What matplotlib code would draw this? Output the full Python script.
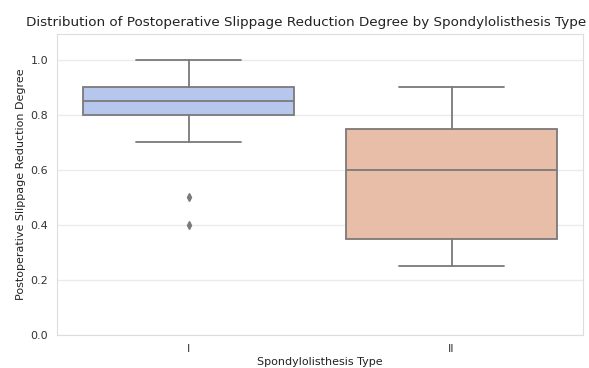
import matplotlib
matplotlib.use("Agg")
import matplotlib.pyplot as plt
import seaborn as sns

sns.set_style("whitegrid")

types = ["I", "II"]
q1 = [0.80, 0.35]
medians = [0.85, 0.60]
q3 = [0.90, 0.75]
whisker_low = [0.70, 0.25]
whisker_high = [1.00, 0.90]
outliers = [[0.5, 0.4], []]

# coolwarm pair, softened
colors = ["#b6c6ec", "#e9bea9"]

stats = []
for i, t in enumerate(types):
    stats.append({
        "label": t, "q1": q1[i], "med": medians[i], "q3": q3[i],
        "whislo": whisker_low[i], "whishi": whisker_high[i], "fliers": outliers[i],
    })

fig, ax = plt.subplots(figsize=(5.89, 3.68), dpi=100)
gray = "#7a7a7a"
bp = ax.bxp(stats, positions=range(len(types)), widths=0.8, patch_artist=True,
            boxprops=dict(edgecolor=gray, linewidth=1.3),
            medianprops=dict(color=gray, linewidth=1.3),
            whiskerprops=dict(color=gray, linewidth=1.3),
            capprops=dict(color=gray, linewidth=1.3),
            flierprops=dict(marker="d", markerfacecolor=gray, markeredgecolor=gray, markersize=4),
            capwidths=0.4)
for patch, c in zip(bp["boxes"], colors):
    patch.set_facecolor(c)

ax.set_xlim(-0.5, 1.5)
ax.set_ylim(0, 1.095)
ax.set_xticks(range(len(types)))
ax.set_xticklabels(types)
ax.tick_params(labelsize=8, colors="#333333", pad=3)
ax.grid(axis="x", visible=False)
ax.grid(axis="y", color="#ebebeb", linewidth=1)
for s in ax.spines.values():
    s.set_color("#dddddd")
ax.set_title("Distribution of Postoperative Slippage Reduction Degree by Spondylolisthesis Type",
             fontsize=9.7, color="#222222", pad=6, x=0.473)
ax.set_xlabel("Spondylolisthesis Type", fontsize=8, color="#222222", labelpad=2)
ax.set_ylabel("Postoperative Slippage Reduction Degree", fontsize=8, color="#222222", labelpad=3)

plt.subplots_adjust(left=0.097, right=0.99, top=0.908, bottom=0.09)
plt.savefig("out.png")
